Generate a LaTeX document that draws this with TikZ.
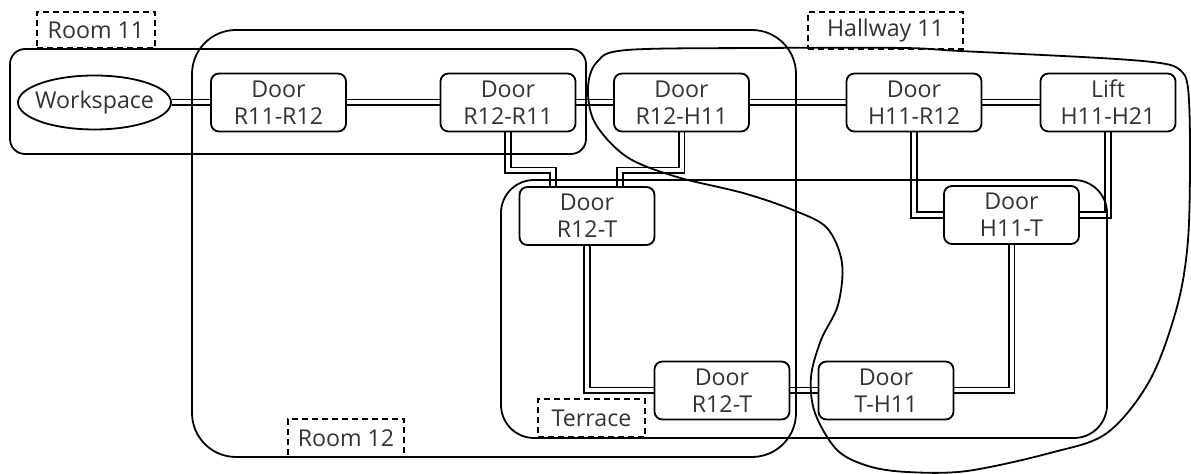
\documentclass[tikz,border=0pt]{standalone}
\usepackage{fontspec}
\setmainfont{Open Sans}
\usetikzlibrary{shapes.geometric,calc}
\pgfdeclarelayer{bg}
\pgfdeclarelayer{mid}
\pgfsetlayers{bg,mid,main}
\begin{document}
\begin{tikzpicture}[x=0.5pt,y=-0.5pt,
  every node/.style={font=\fontsize{11.6}{13.4}\selectfont, text=black!80},
  door/.style={draw, line width=0.9pt, rounded corners=4pt, fill=white,
    minimum width=67.5pt, minimum height=29pt, align=center, inner sep=0pt},
  conn/.style={double, line width=0.8pt, double distance=2pt},
  region/.style={line width=0.9pt},
  lbl/.style={draw, line width=0.9pt, dash pattern=on 3pt off 2pt, inner sep=0pt}]
\useasboundingbox (0,0) rectangle (1191,474);

% nodes
\node[draw, ellipse, line width=0.9pt, fill=white, minimum width=76.5pt, minimum height=27pt, inner sep=0pt] (ws) at (94.5,102.5) {\makebox[0pt]{Workspace}};
\node[door] (d1) at (278.5,102.5) {Door\\R11-R12};
\node[door] (d2) at (508,102.5) {Door\\R12-R11};
\node[door] (d3) at (681.5,102.5) {Door\\R12-H11};
\node[door] (d4) at (914,102.5) {Door\\H11-R12};
\node[door] (lift) at (1108,102.5) {Lift\\H11-H21};
\node[door] (d5) at (587,216) {Door\\R12-T};
\node[door] (d6) at (1011.5,215) {Door\\H11-T};
\node[door] (d7) at (722,390.5) {Door\\R12-T};
\node[door] (d8) at (886,390.5) {Door\\T-H11};

% region labels
\node[lbl, minimum width=59pt, minimum height=18pt] (l11) at (96,30) {Room 11};
\node[lbl, minimum width=77.5pt, minimum height=18.5pt] (lh) at (885.5,30.5) {Hallway 11};
\node[lbl, minimum width=58pt, minimum height=19pt] (l12) at (346,438) {Room 12};
\node[lbl, minimum width=53.5pt, minimum height=19pt] (lt) at (591.5,418) {Terrace};

% connectors
\begin{pgfonlayer}{bg}
\draw[conn] (ws.east) -- (d1.west);
\draw[conn] (d1.east) -- (d2.west);
\draw[conn] (d2.east) -- (d3.west);
\draw[conn] (d3.east) -- (d4.west);
\draw[conn] (d4.east) -- (lift.west);
\draw[conn] (d2.south) -- ++(0,38) -| ([xshift=-17pt]d5.north);
\draw[conn] (d3.south) -- ++(0,38) -| ([xshift=16.5pt]d5.north);
\draw[conn] (d4.south) |- (d6.west);
\draw[conn] (lift.south) |- (d6.east);
\draw[conn] (d5.south) |- (d7.west);
\draw[conn] (d7.east) -- (d8.west);
\draw[conn] (d8.east) -| (d6.south);
\end{pgfonlayer}

% regions
\begin{pgfonlayer}{mid}
\draw[region, rounded corners=7.5pt] (10,49) rectangle (586,154);
\draw[region, rounded corners=22pt] (192,30) rectangle (796,457);
\draw[region, rounded corners=16.5pt] (501,180) rectangle (1107,438);
\draw[region] plot[smooth cycle, tension=0.55] coordinates {
 (627,50) (760,48) (903,48) (960,51) (1100,58) (1160,63) (1180,70) (1188,88)
 (1190,150) (1188,240) (1177,307) (1150,380) (1107,433) (1050,453) (967,471)
 (907,472) (868,466) (837,450) (815,413) (811,377) (821,340) (838,305)
 (842,263) (827,228) (793,210) (743,193) (677,177) (627,157) (595,123)
 (588,88) (597,62)};
\end{pgfonlayer}
\end{tikzpicture}
\end{document}
